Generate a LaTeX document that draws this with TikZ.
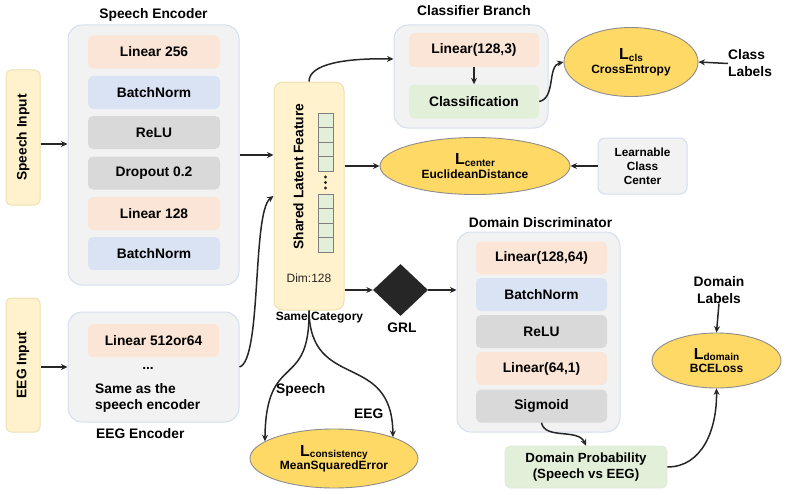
\documentclass[tikz,border=0pt]{standalone}
\usepackage{fontspec}
\setmainfont{Liberation Sans}
\usetikzlibrary{arrows.meta,shapes.geometric,calc}

\definecolor{cfill}{HTML}{F2F2F2}
\definecolor{cborder}{HTML}{D5DEEE}
\definecolor{inyel}{HTML}{FFF2CC}
\definecolor{inyelb}{HTML}{EEDFB0}
\definecolor{peach}{HTML}{FBE5D6}
\definecolor{lblue}{HTML}{DAE3F3}
\definecolor{lgray}{HTML}{D9D9D9}
\definecolor{lgreen}{HTML}{E2F0D9}
\definecolor{gold}{HTML}{FFD966}
\definecolor{ink}{HTML}{262626}
\definecolor{ellb}{HTML}{8C8C8C}
\definecolor{cellb}{HTML}{7F7F7F}

\newcommand{\mainf}{\fontsize{13.8}{16}\selectfont\bfseries}
\newcommand{\smf}{\fontsize{12}{13.5}\selectfont\bfseries}
\newcommand{\Lsub}[1]{{\fontsize{16}{16}\selectfont L}\raisebox{-1.5pt}{\fontsize{10}{10}\selectfont #1}}

\begin{document}
\begin{tikzpicture}[x=1pt,y=-1pt,
  arr/.style={draw=ink, line width=1.5pt, -{Stealth[length=6.5pt,width=6pt]}},
  cont/.style={draw=cborder, fill=cfill, line width=1pt, rounded corners=14pt, inner sep=0pt},
  inbox/.style={draw=inyelb, fill=inyel, line width=1pt, rounded corners=5pt, inner sep=0pt, minimum width=34pt},
  layer/.style={fill=#1, rounded corners=5pt, inner sep=0pt, minimum width=132pt, minimum height=33pt, font=\mainf},
  loss/.style={ellipse, draw=ellb, fill=gold, line width=0.9pt, inner sep=0pt, align=center, font=\smf},
  lbl/.style={font=\mainf, inner sep=0pt},
  cell/.style={draw=cellb, fill=lgreen, line width=0.9pt}
]
\path[use as bounding box] (0,0) rectangle (787,495);

% inputs
\node[inbox, minimum height=135pt] (sin) at (23,137.5) {};
\node[lbl, rotate=90] (sintxt) at (23,137.5) {Speech Input};
\node[inbox, minimum height=134pt] (ein) at (23,365) {};
\node[lbl, rotate=90] (eintxt) at (23,365) {EEG Input};

% speech encoder
\node[cont, minimum width=171pt, minimum height=260pt] (senc) at (153.5,155) {};
\node[lbl, anchor=base] (senct) at (153.5,18.3) {Speech Encoder};
\node[layer=peach] (s1) at (154,52) {Linear 256};
\node[layer=lblue] (s2) at (154,92.5) {BatchNorm};
\node[layer=lgray] (s3) at (154,132.5) {ReLU};
\node[layer=lgray] (s4) at (154,173) {Dropout 0.2};
\node[layer=peach] (s5) at (154,213.5) {Linear 128};
\node[layer=lblue] (s6) at (154,253.5) {BatchNorm};

% EEG encoder
\node[cont, minimum width=171pt, minimum height=110pt] (eenc) at (153.5,367) {};
\node[layer=peach, minimum width=131pt] (e1) at (153.5,340.5) {Linear 512or64};
\node[lbl] (edots) at (148,368) {...};
\node[lbl, anchor=base west] (esame1) at (95,393) {Same as the};
\node[lbl, anchor=base west] (esame2) at (95,409.5) {speech encoder};
\node[lbl, anchor=base west] (eenct) at (96,438) {EEG Encoder};

% shared latent feature
\node[fill=inyel, draw=inyelb, line width=1pt, rounded corners=9pt, minimum width=70pt, minimum height=228pt, inner sep=0pt] (shared) at (309,196) {};
\node[lbl, rotate=90] (slf) at (298.5,176.5) {Shared Latent Feature};
\foreach \yy in {113,127.5,142,156.5,194,208.5,223,237.5}
  \draw[cell] (318,\yy) rectangle ++(15,14.5);
\foreach \yy in {177,182.5,188}
  \fill[ink] (325.5,\yy) circle (1.6pt);
\node[font=\fontsize{12}{14}\selectfont, text=ink, anchor=base, inner sep=0pt] (dim) at (309,282) {Dim:128};
\node[font=\fontsize{12}{14}\selectfont\bfseries, anchor=base, inner sep=0pt] (samec) at (319.5,320) {Same Category};

% classifier branch
\node[cont, minimum width=154pt, minimum height=103pt] (clsbox) at (471,76.5) {};
\node[lbl, anchor=base] (clst) at (474,16) {Classifier Branch};
\node[layer=peach, minimum width=130pt, minimum height=34pt] (lin3) at (474,50) {Linear(128,3)};
\node[layer=lgreen, minimum width=130pt, minimum height=34pt] (clsn) at (474,101.5) {Classification};

% losses
\node[loss, minimum width=134pt, minimum height=69pt] (lcls) at (631,62) {\Lsub{cls}\\CrossEntropy};
\node[lbl, align=left, anchor=west, font=\fontsize{13.8}{17}\selectfont\bfseries] (clab) at (728,63.5) {Class\\Labels};
\node[loss, minimum width=190pt, minimum height=57pt] (lcenter) at (475,166) {\Lsub{center}\\EuclideanDistance};
\node[draw=cborder, fill=cfill, line width=1pt, rounded corners=7pt, minimum width=89pt, minimum height=56pt, inner sep=0pt, align=center, font=\fontsize{11.8}{14}\selectfont\bfseries] (learn) at (642.5,166) {Learnable\\Class\\Center};
\node[loss, minimum width=168pt, minimum height=59pt] (cons) at (334,458.5) {\Lsub{consistency}\\MeanSquaredError};

% GRL
\node[diamond, fill=ink, aspect=1, minimum width=55pt, minimum height=52pt, inner sep=0pt] (grl) at (400.5,290) {};
\node[lbl, anchor=base] (grlt) at (402,332) {GRL};

% domain discriminator
\node[cont, minimum width=163pt, minimum height=200pt] (dd) at (538.5,332) {};
\node[lbl, anchor=base] (ddt) at (540.5,227) {Domain Discriminator};
\node[layer=peach, minimum width=131pt] (d1) at (541.5,258) {Linear(128,64)};
\node[layer=lblue, minimum width=131pt] (d2) at (541.5,294.5) {BatchNorm};
\node[layer=lgray, minimum width=131pt] (d3) at (541.5,331.5) {ReLU};
\node[layer=peach, minimum width=131pt] (d4) at (541.5,368.5) {Linear(64,1)};
\node[layer=lgray, minimum width=131pt] (d5) at (541.5,406) {Sigmoid};

\node[fill=lgreen, draw=lgreen!80!black!40, line width=0.6pt, rounded corners=5pt, minimum width=162pt, minimum height=42pt, inner sep=0pt, align=center, font=\fontsize{13.3}{16}\selectfont\bfseries] (dprob) at (586,467) {Domain Probability\\(Speech vs EEG)};
\node[loss, minimum width=129pt, minimum height=55pt] (ldom) at (716.5,360.5) {\Lsub{domain}\\BCELoss};
\node[lbl, align=center, font=\fontsize{13.8}{16.5}\selectfont\bfseries] (dlab) at (719,290) {Domain\\Labels};

% labels on consistency branches
\node[lbl, anchor=base west] (spl) at (276,393) {Speech};
\node[lbl, anchor=base west] (eegl) at (354,418) {EEG};

% connectors
\draw[arr] ([yshift=-6.5pt]sin.east) -- ([yshift=-6.5pt]sin.east -| senc.west);
\draw[arr] ([yshift=-2pt]ein.east) -- ([yshift=-2pt]ein.east -| eenc.west);
\draw[arr] (senc.east) -- (senc.east -| shared.west);
\draw[arr] (eenc.east) .. controls (262,360) and (252,212) .. (shared.west);
\draw[arr] (shared.north) .. controls (309,64) and (345,58) .. ([yshift=17.5pt]clsbox.west);
\draw[arr] (lin3.south) -- (clsn.north);
\draw[arr] (clsn.east) .. controls (556,98) and (547,66) .. (lcls.west);
\draw[arr] (clab.west) -- (lcls.east);
\draw[arr] (lcenter.west -| shared.east) -- (lcenter.west);
\draw[arr] (learn.west) -- (lcenter.east);
\draw[arr] (grl.west -| shared.east) -- (grl.west);
\draw[arr] (grl.east) -- (grl.east -| dd.west);
\draw[arr] (shared.south) .. controls (310,392) and (266,350) .. (cons.166);
\draw[arr] (shared.south) .. controls (310,392) and (392,350) .. (cons.20);
\draw[arr] (d5.south) .. controls (545,440) and (578,428) .. (dprob.north);
\draw[arr] (dprob.east) .. controls (702,467) and (717,430) .. (ldom.south);
\draw[arr] (dlab.south) -- (ldom.north);
\end{tikzpicture}
\end{document}
